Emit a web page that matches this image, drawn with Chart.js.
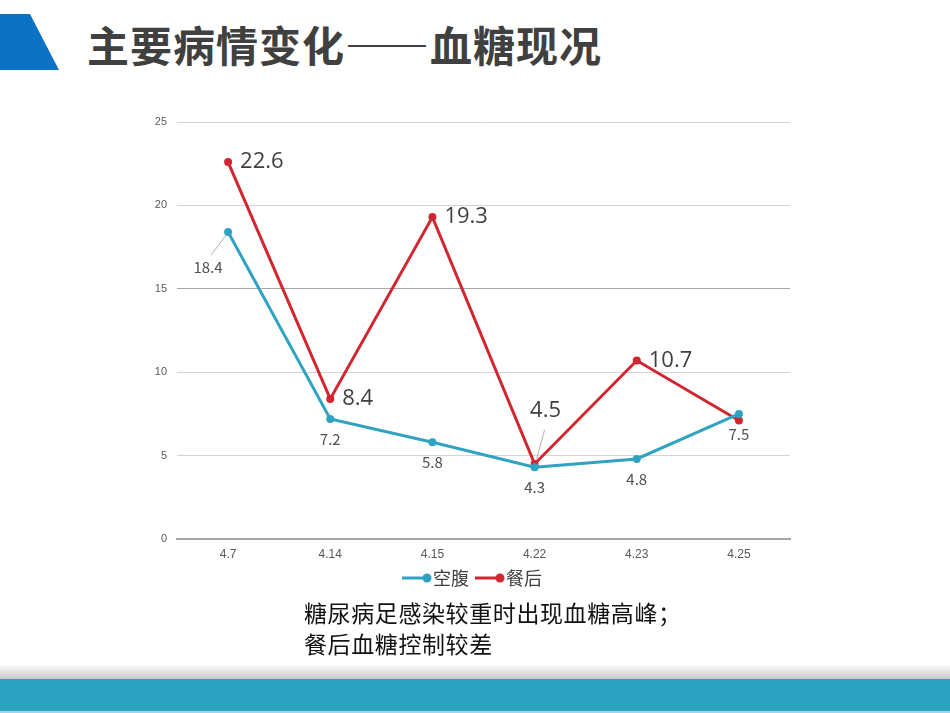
<!DOCTYPE html>
<html lang="zh">
<head>
    <meta charset="UTF-8">
    <title>主要病情变化——血糖现况</title>
    <script src="https://cdn.jsdelivr.net/npm/chart.js"></script>
    <style>
        body { margin: 0; width: 950px; height: 713px; position: relative; overflow: hidden; background: #fff; font-family: "Noto Sans CJK SC", sans-serif; }
        .corner { position: absolute; left: 0; top: 14px; width: 60px; height: 56px; background: #0b72c4; clip-path: polygon(0 0, 30px 0, 59px 56px, 0 56px); }
        .title { position: absolute; left: 87px; top: 14px; font-size: 42px; font-weight: bold; color: #404040; letter-spacing: 1px; line-height: 60px; white-space: nowrap; }
        .chartbox { position: absolute; left: 140px; top: 100px; width: 660px; height: 500px; }
        .note { position: absolute; left: 304px; top: 597px; font-size: 23px; line-height: 31px; color: #111; letter-spacing: 0.6px; text-spacing-trim: space-all; }
        .shadow { position: absolute; left: 0; top: 664px; width: 950px; height: 16px; background: linear-gradient(to bottom, rgba(255,255,255,0), rgba(150,150,150,0.55)); }
        .bar { position: absolute; left: 0; top: 679px; width: 950px; height: 32px; background: #2ba3c0; }
        .barline { position: absolute; left: 0; top: 711px; width: 950px; height: 2px; background: #9fd7e6; }
    </style>
</head>
<body>
    <div class="corner"></div>
    <div class="title">主要病情变化——血糖现况</div>
    <div class="chartbox"><canvas id="myChart" width="660" height="500"></canvas></div>
    <div class="note">糖尿病足感染较重时出现血糖高峰；<br>餐后血糖控制较差</div>
    <div class="shadow"></div>
    <div class="bar"></div>
    <div class="barline"></div>

    <script>
        // data
        const dates = ['4.7', '4.14', '4.15', '4.22', '4.23', '4.25'];
        const fasting = [18.4, 7.2, 5.8, 4.3, 4.8, 7.5];     // 空腹
        const afterMeal = [22.6, 8.4, 19.3, 4.5, 10.7, 7.1]; // 餐后
        const yTicks = [0, 5, 10, 15, 20, 25];

        const teal = '#2fa3c1';
        const red = '#d22630';

        // value labels: 空腹 below the point, 餐后 to the right (last one not shown)
        const valueLabels = {
            id: 'valueLabels',
            afterDatasetsDraw(chart) {
                const ctx = chart.ctx;
                ctx.save();
                // 空腹
                const m0 = chart.getDatasetMeta(0);
                ctx.fillStyle = '#505050';
                ctx.font = '15px "Liberation Sans Narrow", "Noto Sans CJK SC"';
                ctx.textAlign = 'center';
                ctx.textBaseline = 'middle';
                m0.data.forEach((pt, i) => {
                    const v = fasting[i].toFixed(1);
                    if (i === 0) {
                        ctx.strokeStyle = '#b0b0b0';
                        ctx.lineWidth = 1;
                        ctx.beginPath();
                        ctx.moveTo(pt.x - 2, pt.y + 3);
                        ctx.lineTo(pt.x - 17, pt.y + 23);
                        ctx.stroke();
                        ctx.fillText(v, pt.x - 20, pt.y + 35);
                    } else {
                        ctx.fillText(v, pt.x, pt.y + 20);
                    }
                });
                // 餐后
                const m1 = chart.getDatasetMeta(1);
                ctx.font = '22px "Open Sans", "Noto Sans CJK SC"';
                ctx.textAlign = 'left';
                ctx.fillStyle = '#404040';
                m1.data.forEach((pt, i) => {
                    if (i === 5) return;
                    const v = afterMeal[i].toFixed(1);
                    if (i === 3) {
                        ctx.strokeStyle = '#b0b0b0';
                        ctx.lineWidth = 1;
                        ctx.beginPath();
                        ctx.moveTo(pt.x + 2, pt.y - 5);
                        ctx.lineTo(pt.x + 10, pt.y - 34);
                        ctx.stroke();
                        ctx.textAlign = 'center';
                        ctx.fillText(v, pt.x + 11, pt.y - 53);
                        ctx.textAlign = 'left';
                    } else {
                        ctx.fillText(v, pt.x + 12, pt.y);
                    }
                });
                ctx.restore();
            }
        };

        // legend: line with dot, then label
        const lineLegend = {
            id: 'lineLegend',
            afterDraw(chart) {
                const ctx = chart.ctx;
                const y = chart.chartArea.bottom + 39;
                let x = 262;
                ctx.save();
                ctx.font = '18px "Noto Sans CJK SC"';
                ctx.textBaseline = 'middle';
                chart.data.datasets.forEach(ds => {
                    ctx.strokeStyle = ds.borderColor;
                    ctx.fillStyle = ds.borderColor;
                    ctx.lineWidth = 3;
                    ctx.beginPath();
                    ctx.moveTo(x, y);
                    ctx.lineTo(x + 25, y);
                    ctx.stroke();
                    ctx.beginPath();
                    ctx.arc(x + 25, y, 4.5, 0, Math.PI * 2);
                    ctx.fill();
                    ctx.fillStyle = '#404040';
                    ctx.fillText(ds.label, x + 31, y);
                    x += 31 + ctx.measureText(ds.label).width + 6;
                });
                ctx.restore();
            }
        };

        const ctx = document.getElementById('myChart').getContext('2d');
        const myChart = new Chart(ctx, {
            type: 'line',
            data: {
                labels: dates,
                datasets: [
                    {
                        label: '空腹',
                        data: fasting,
                        borderColor: teal,
                        backgroundColor: teal,
                        borderWidth: 3,
                        pointRadius: 4,
                        pointBorderWidth: 0,
                        tension: 0,
                        fill: false
                    },
                    {
                        label: '餐后',
                        data: afterMeal,
                        borderColor: red,
                        backgroundColor: red,
                        borderWidth: 3,
                        pointRadius: 4,
                        pointBorderWidth: 0,
                        tension: 0,
                        fill: false
                    }
                ]
            },
            options: {
                responsive: false,
                animation: false,
                layout: { padding: { top: 22, right: 10, left: 0, bottom: 31 } },
                scales: {
                    x: {
                        offset: true,
                        grid: { display: false },
                        border: { color: '#a6a6a6', width: 2 },
                        ticks: { color: '#595959', font: { size: 12, family: '"Liberation Sans Narrow", sans-serif' }, padding: 0, autoSkip: false, maxRotation: 0 },
                        afterFit(scale) { scale.height = 30; }
                    },
                    y: {
                        min: 0,
                        max: 25,
                        afterBuildTicks(scale) { scale.ticks = yTicks.map(v => ({ value: v })); },
                        grid: {
                            color: ctx => ctx.tick && ctx.tick.value === 15 ? '#a6a6a6' : '#d4d4d4',
                            lineWidth: 1,
                            drawTicks: false
                        },
                        border: { display: false },
                        ticks: { color: '#595959', font: { size: 11, family: '"Liberation Sans Narrow", sans-serif' }, padding: 10 },
                        afterFit(scale) { scale.width = 37; }
                    }
                },
                plugins: {
                    legend: { display: false },
                    tooltip: { enabled: false }
                }
            },
            plugins: [valueLabels, lineLegend]
        });
    </script>
</body>
</html>
